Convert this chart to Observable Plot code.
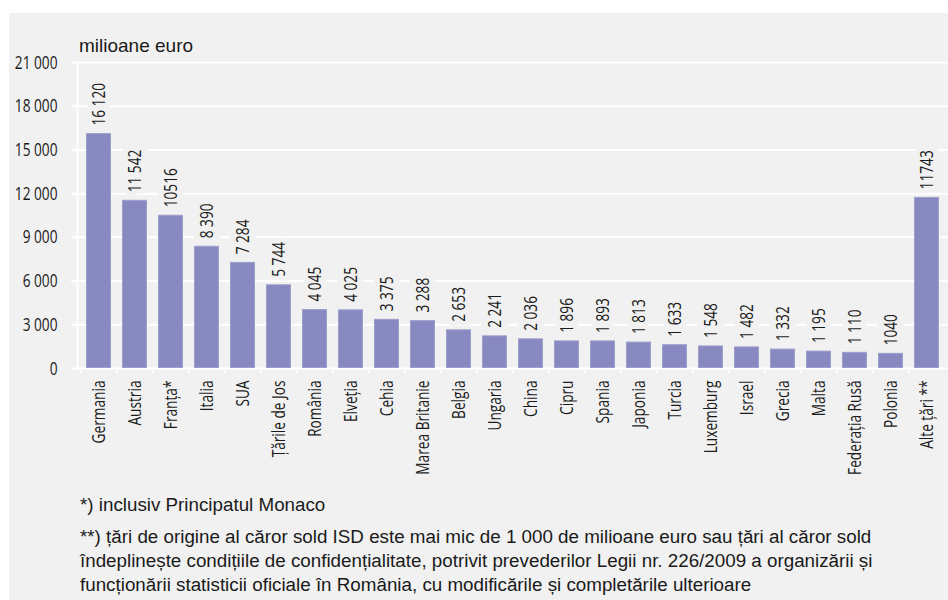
<!DOCTYPE html>
<html>
<head>
<meta charset="utf-8">
<script src="https://cdn.jsdelivr.net/npm/d3@7"></script>
<script src="https://cdn.jsdelivr.net/npm/@observablehq/plot@0.6"></script>
<style>
  html, body { margin: 0; padding: 0; background: #ffffff; }
  #page { position: relative; width: 948px; height: 600px; overflow: hidden; }
  #bg { position: absolute; left: 9px; top: 13px; width: 939px; height: 587px; background: #f1f1f1; }
  #chart { position: absolute; left: 0; top: 0; }
  .unit { position: absolute; left: 79px; top: 35px; font-family: "Liberation Sans", Arial, sans-serif; font-size: 19px; color: #1a1a1a; white-space: nowrap; }
  .note { position: absolute; left: 80px; font-family: "Liberation Sans", Arial, sans-serif; font-size: 18.8px; color: #1a1a1a; white-space: nowrap; line-height: 24px; }
</style>
</head>
<body>
<div id="page">
  <div id="bg"></div>
  <div id="chart"></div>
  <div class="unit">milioane euro</div>
  <div class="note" id="n1" style="top:493px"></div>
  <div class="note" id="n2" style="top:525px"></div>
</div>
<script>
const categories = ["Germania","Austria","Franța*","Italia","SUA","Țările de Jos","România","Elveția","Cehia","Marea Britanie","Belgia","Ungaria","China","Cipru","Spania","Japonia","Turcia","Luxemburg","Israel","Grecia","Malta","Federația Rusă","Polonia","Alte țări **"];
const values = [16120,11542,10516,8390,7284,5744,4045,4025,3375,3288,2653,2241,2036,1896,1893,1813,1633,1548,1482,1332,1195,1110,1040,11743];
const valueLabels = ["16 120","11 542","10516","8 390","7 284","5 744","4 045","4 025","3 375","3 288","2 653","2 241","2 036","1 896","1 893","1 813","1 633","1 548","1 482","1 332","1 195","1 110","1040","11743"];
const yTicks = [0,3000,6000,9000,12000,15000,18000,21000];
const unitLabel = "milioane euro";
const note1 = "*) inclusiv Principatul Monaco";
const note2Lines = [
  "**) țări de origine al căror sold ISD este mai mic de 1 000 de milioane euro sau țări al căror sold",
  "îndeplinește condițiile de confidențialitate, potrivit prevederilor Legii nr. 226/2009 a organizării și",
  "funcționării statisticii oficiale în România, cu modificările și completările ulterioare"
];

document.querySelector(".unit").textContent = unitLabel;
document.getElementById("n1").textContent = note1;
document.getElementById("n2").innerHTML = note2Lines.map(s => s.replace(/&/g,"&amp;").replace(/</g,"&lt;")).join("<br>");

const data = categories.map((c, i) => ({cat: c, val: values[i], label: valueLabels[i]}));

const W = 948, H = 490, mL = 77, mR = 0, mT = 62, mB = 122;
const step = (W - mL - mR) / categories.length;
const bg = "#f1f1f1";
const ink = "#1a1a1a";
const squeeze = 0.72;
const fmt = d => d3.format(",")(d).replace(/,/g, " ");

const chart = Plot.plot({
  width: W,
  height: H,
  marginLeft: mL,
  marginRight: mR,
  marginTop: mT,
  marginBottom: mB,
  style: {background: "transparent", fontFamily: "'Open Sans', 'Noto Sans', sans-serif", fontSize: "19px", color: ink},
  x: {domain: categories, paddingInner: 0.3, paddingOuter: 0.15},
  y: {domain: [0, 21000]},
  marks: [
    Plot.gridY(yTicks, {stroke: "white", strokeOpacity: 1, strokeWidth: 2}),
    Plot.frame({anchor: "left", stroke: "white", strokeWidth: 2}),
    Plot.barY(data, {x: "cat", y: "val", fill: "#8889c0", stroke: "#9d9ecd", strokeWidth: 1, inset: 0.5}),
    Plot.text(data, {x: "cat", y: "val", text: "label", rotate: -90, textAnchor: "start", dy: -8, fill: ink, stroke: bg, strokeWidth: 13, fontSize: 19}),
    Plot.axisY({ticks: yTicks, tickSize: 6, tickPadding: 14, stroke: "white", strokeWidth: 2, fill: ink, tickFormat: fmt, label: null, fontSize: 19}),
    Plot.axisX({tickSize: 5, stroke: "white", strokeWidth: 2, dx: -step / 2, tickFormat: () => "", label: null}),
    Plot.axisX({tickSize: 0, tickPadding: 12, tickRotate: -90, fill: ink, label: null, fontSize: 19})
  ]
});

// condense the glyphs horizontally (in each text's own frame) to mimic a condensed face
chart.querySelectorAll("text").forEach(t => {
  if (!t.textContent) return;
  const tr = t.getAttribute("transform");
  if (tr) {
    t.setAttribute("transform", tr + ` scale(${squeeze},1)`);
  } else {
    const x = +t.getAttribute("x") || 0, y = +t.getAttribute("y") || 0;
    t.removeAttribute("x"); t.removeAttribute("y");
    t.setAttribute("transform", `translate(${x},${y}) scale(${squeeze},1)`);
  }
});
document.getElementById("chart").appendChild(chart);
</script>
</body>
</html>
